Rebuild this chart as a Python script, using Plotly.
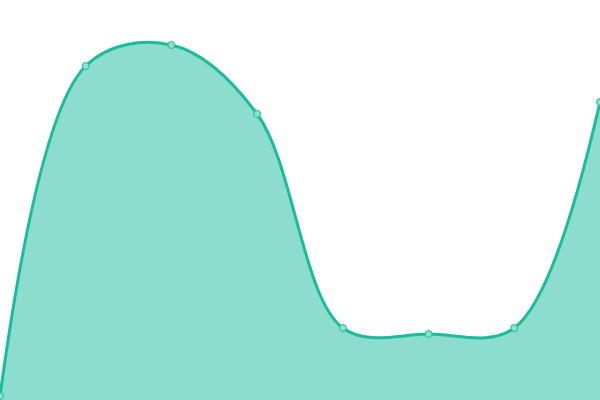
import plotly.graph_objects as go

# Values (y axis 0-100, x = point index)
points = [0, 1, 2, 3, 4, 5, 6, 7]
values = [1, 83.5, 88.75, 71.5, 18, 16.5, 18, 74.5]

line_color = '#1ABC9C'
fill_color = 'rgba(26, 188, 156, 0.5)'


def create_graph():
    fig = go.Figure()

    fig.add_trace(go.Scatter(
        x=points,
        y=values,
        mode='lines+markers',
        line=dict(color=line_color, width=3, shape='spline', smoothing=1),
        marker=dict(size=7, color='#8BE0CF',
                    line=dict(color=line_color, width=1)),
        fill='tozeroy',
        fillcolor=fill_color,
        showlegend=False,
        hoverinfo='skip'
        )
    )

    fig.update_layout(
        width=600,
        height=400,
        paper_bgcolor='#fff',
        plot_bgcolor='#fff',
        margin={"r": 0, "t": 0, "l": 0, "b": 0},
        xaxis=dict(range=[0, 7], visible=False, fixedrange=True),
        yaxis=dict(range=[0, 100], visible=False, fixedrange=True),
    )
    # drop the default page margin so the chart sits flush at 0,0
    fig.write_html("out.html", config={'displayModeBar': False},
                   post_script="document.body.style.margin='0';")


create_graph()
